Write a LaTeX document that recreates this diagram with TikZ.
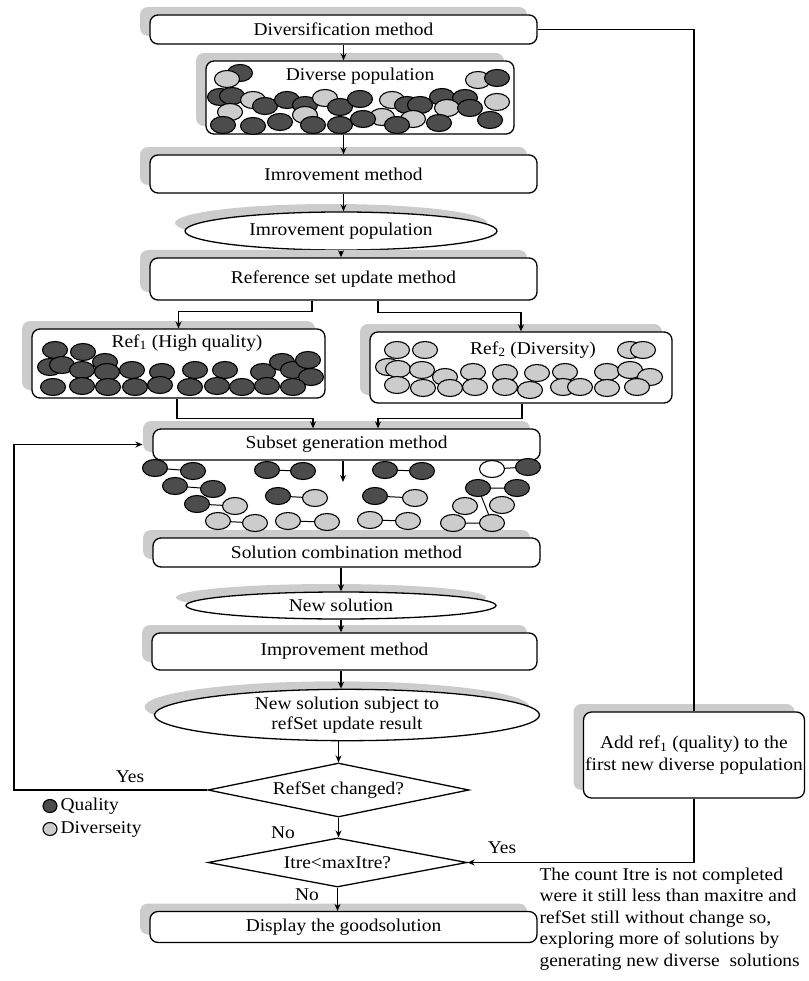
\documentclass[tikz,border=0pt]{standalone}
\usepackage{fontspec}
\setmainfont{Liberation Serif}[FakeStretch=1.08]
\usetikzlibrary{shapes.geometric,shadows,arrows.meta}
\definecolor{shade}{gray}{0.8}
\definecolor{qualc}{gray}{0.3}
\definecolor{divc}{gray}{0.8}
\newcommand\myblob[3]{\draw[#1] (#2,#3) ellipse [x radius=12.5pt, y radius=8.5pt];}
\newcommand\mypair[6]{\draw[line width=1pt] (#2,#3) -- (#5,#6); \myblob{#1}{#2}{#3}\myblob{#4}{#5}{#6}}
\begin{document}
\begin{tikzpicture}[x=1pt,y=-1pt, font=\fontsize{18}{21.5}\selectfont,
 sh/.style={drop shadow={shadow xshift=-10pt, shadow yshift=8pt, fill=shade, opacity=1}},
 box/.style={draw, line width=1.3pt, rounded corners=8pt, fill=white, inner sep=0pt, sh},
 oval/.style={draw, ellipse, line width=1.3pt, fill=white, inner sep=0pt, sh},
 dia/.style={draw, diamond, line width=1.3pt, fill=white, inner sep=0pt, aspect=4.8},
 arr/.style={line width=1.2pt, -{Stealth[length=7pt,width=6pt]}},
 ln/.style={line width=1.2pt},
 q/.style={draw, line width=1.1pt, fill=qualc},
 d/.style={draw, line width=1.1pt, fill=divc},
 w/.style={draw, line width=1.1pt, fill=white},
]
\useasboundingbox (0,0) rectangle (808,981);

% nodes
\node[box, minimum width=387pt, minimum height=29pt] (div) at (343.5,29.5) {Diversification method};
\node[box, minimum width=308pt, minimum height=73pt] (divpop) at (360,97.5) {};
\node[box, minimum width=387pt, minimum height=38pt] (imp1) at (343.5,174) {Imrovement method};
\node[oval, minimum width=312pt, minimum height=38pt] (imppop) at (341,231) {Imrovement population};
\node[box, minimum width=387pt, minimum height=42pt] (refupd) at (343.5,279) {Reference set update method};
\node[box, minimum width=293pt, minimum height=69pt] (ref1) at (178.5,363.5) {};
\node[box, minimum width=302pt, minimum height=71pt] (ref2) at (521,367.5) {};
\node[box, minimum width=387pt, minimum height=31pt] (subset) at (346.5,444.5) {Subset generation method};
\node[box, minimum width=387pt, minimum height=29pt] (solcomb) at (346.5,552.5) {Solution combination method};
\node[oval, minimum width=310pt, minimum height=27pt] (newsol) at (341,605.5) {New solution};
\node[box, minimum width=385pt, minimum height=37pt] (imp2) at (344.5,651.5) {Improvement method};
\node[oval, minimum width=385pt, minimum height=50pt, align=center, font=\fontsize{18}{20}\selectfont] (newsub) at (347,715) {New solution subject to\\refSet update result};
\node[dia, minimum width=261pt, minimum height=54pt] (refch) at (338.5,790) {RefSet changed?};
\node[dia, minimum width=259pt, minimum height=49pt] (itre) at (337.5,862.5) {Itre<maxItre?};
\node[box, minimum width=387pt, minimum height=31pt] (disp) at (343.5,927) {Display the goodsolution};
\node[box, minimum width=221pt, minimum height=86pt, align=center] (add) at (694,755) {Add ref\textsubscript{1} (quality) to the\\first new diverse population};

% texts
\node (divpoptxt) at (360,76) {Diverse population};
\node (ref1txt) at (187,343) {Ref\textsubscript{1} (High quality)};
\node (ref2txt) at (533,350) {Ref\textsubscript{2} (Diversity)};
\node[anchor=north west, align=left] (note) at (536,864) {The count Itre is not completed\\were it still less than maxitre and\\refSet still without change so,\\exploring more of solutions by\\generating new diverse\ \ solutions};
\node (yes1) at (130,777) {Yes};
\node (no1) at (283,833) {No};
\node (yes2) at (502,848) {Yes};
\node (no2) at (307,895) {No};
\node[q, ellipse, minimum width=14pt, minimum height=13pt, inner sep=0pt] (legq) at (50,806) {};
\node[anchor=west] (legqt) at (57,806) {Quality};
\node[d, ellipse, minimum width=14pt, minimum height=13pt, inner sep=0pt] (legd) at (50,829) {};
\node[anchor=west] (legdt) at (57,829) {Diverseity};

% connectors
\draw[arr] (div.south) -- (div.south |- divpop.north);
\draw[arr] (divpop.south -| imp1.south) -- (imp1.north);
\draw[arr] (imp1.south) -- (imp1.south |- imppop.north);
\draw[arr] (imppop.south) -- (imppop.south |- refupd.north);
\draw[arr] ([xshift=-31.5pt]refupd.south) -- ++(0,11) -| (ref1.north);
\draw[arr] ([xshift=34.5pt]refupd.south) -- ++(0,12) -| (ref2.north);
\draw[arr] ([xshift=-1.5pt]ref1.south) -- ++(0,20) -| ([xshift=-33.5pt]subset.north);
\draw[arr] ([xshift=1pt]ref2.south) -- ++(0,15) -| ([xshift=31.5pt]subset.north);
\coordinate (subdown) at (343,482);
\draw[arr] (subset.south -| subdown) -- (subdown);
\draw[arr] (newsol.north |- solcomb.south) -- (newsol.north);
\draw[arr] (newsol.south) -- (newsol.south |- imp2.north);
\draw[arr] (newsol.south |- imp2.south) -- (newsol.south |- newsub.north);
\draw[arr] (refch.north |- newsub.south) -- (refch.north);
\draw[arr] (refch.south) -- (refch.south |- itre.north);
\draw[arr] (itre.south) -- (itre.south |- disp.north);
\coordinate (loopc) at (14,790);
\draw[arr] (refch.west) -- (loopc) |- ([xshift=-10pt]subset.west);
\draw[ln] (div.east) -| (add.north);
\draw[arr] (add.south) |- (itre.east);

% diverse population
\myblob{q}{240}{73}\myblob{d}{227}{79}
\myblob{d}{478}{80}\myblob{q}{497}{78}
\myblob{q}{220}{97}\myblob{q}{232}{96}\myblob{d}{253}{100}\myblob{q}{265}{106}
\myblob{q}{287}{100}\myblob{q}{305}{105}\myblob{d}{325}{98}\myblob{q}{340}{107}
\myblob{q}{360}{99}\myblob{d}{392}{100}\myblob{q}{407}{105}\myblob{q}{420}{105}
\myblob{q}{442}{97}\myblob{q}{465}{98}\myblob{d}{447}{108}\myblob{q}{470}{108}\myblob{d}{497}{102}
\myblob{d}{230}{112}\myblob{d}{305}{115}\myblob{d}{382}{117}\myblob{d}{413}{119}
\myblob{q}{223}{125}\myblob{q}{253}{126}\myblob{q}{280}{122}\myblob{q}{313}{125}
\myblob{q}{340}{125}\myblob{q}{363}{119}\myblob{q}{397}{125}\myblob{q}{439}{123}\myblob{q}{490}{120}

% ref1
\myblob{q}{55}{350}\myblob{q}{83}{352}\myblob{q}{50}{367}\myblob{q}{62}{365}\myblob{q}{82}{370}
\myblob{q}{105}{362}\myblob{q}{107}{372}\myblob{q}{132}{370}\myblob{q}{162}{372}\myblob{q}{195}{370}
\myblob{q}{225}{370}\myblob{q}{263}{372}\myblob{q}{282}{362}\myblob{q}{293}{370}\myblob{q}{308}{360}\myblob{q}{311}{377}
\myblob{q}{53}{387}\myblob{q}{82}{386}\myblob{q}{108}{387}\myblob{q}{135}{387}\myblob{q}{160}{385}
\myblob{q}{190}{387}\myblob{q}{217}{386}\myblob{q}{242}{387}\myblob{q}{267}{386}\myblob{q}{293}{387}

% ref2
\myblob{d}{397}{350}\myblob{d}{425}{350}\myblob{d}{630}{350}\myblob{d}{643}{350}
\myblob{d}{388}{367}\myblob{d}{398}{369}\myblob{d}{422}{370}\myblob{d}{445}{377}\myblob{d}{473}{372}
\myblob{d}{505}{373}\myblob{d}{537}{373}\myblob{d}{565}{372}\myblob{d}{607}{372}\myblob{d}{630}{370}\myblob{d}{650}{377}
\myblob{d}{397}{385}\myblob{d}{423}{388}\myblob{d}{450}{388}\myblob{d}{475}{387}\myblob{d}{505}{387}
\myblob{d}{530}{390}\myblob{d}{563}{387}\myblob{d}{580}{387}\myblob{d}{607}{388}\myblob{d}{637}{387}

% subsets
\mypair{q}{155}{468}{q}{193}{471}
\mypair{q}{175}{486}{q}{213}{489}
\mypair{q}{197}{504}{d}{235}{506}
\mypair{d}{218}{521}{d}{255}{523}
\mypair{q}{267}{470}{q}{303}{471}
\mypair{q}{278}{496}{d}{315}{498}
\mypair{d}{288}{521}{d}{327}{522}
\mypair{q}{385}{470}{q}{422}{471}
\mypair{q}{375}{496}{d}{415}{498}
\mypair{d}{370}{520}{d}{408}{521}
\mypair{w}{492}{469}{q}{528}{467}
\draw[line width=1pt] (478,488) -- (517,488) (478,488) -- (492,523) (453,523) -- (492,523);
\myblob{q}{478}{488}\myblob{q}{517}{488}
\myblob{d}{465}{506}\myblob{d}{502}{505}
\myblob{d}{453}{523}\myblob{d}{492}{523}
\end{tikzpicture}
\end{document}
